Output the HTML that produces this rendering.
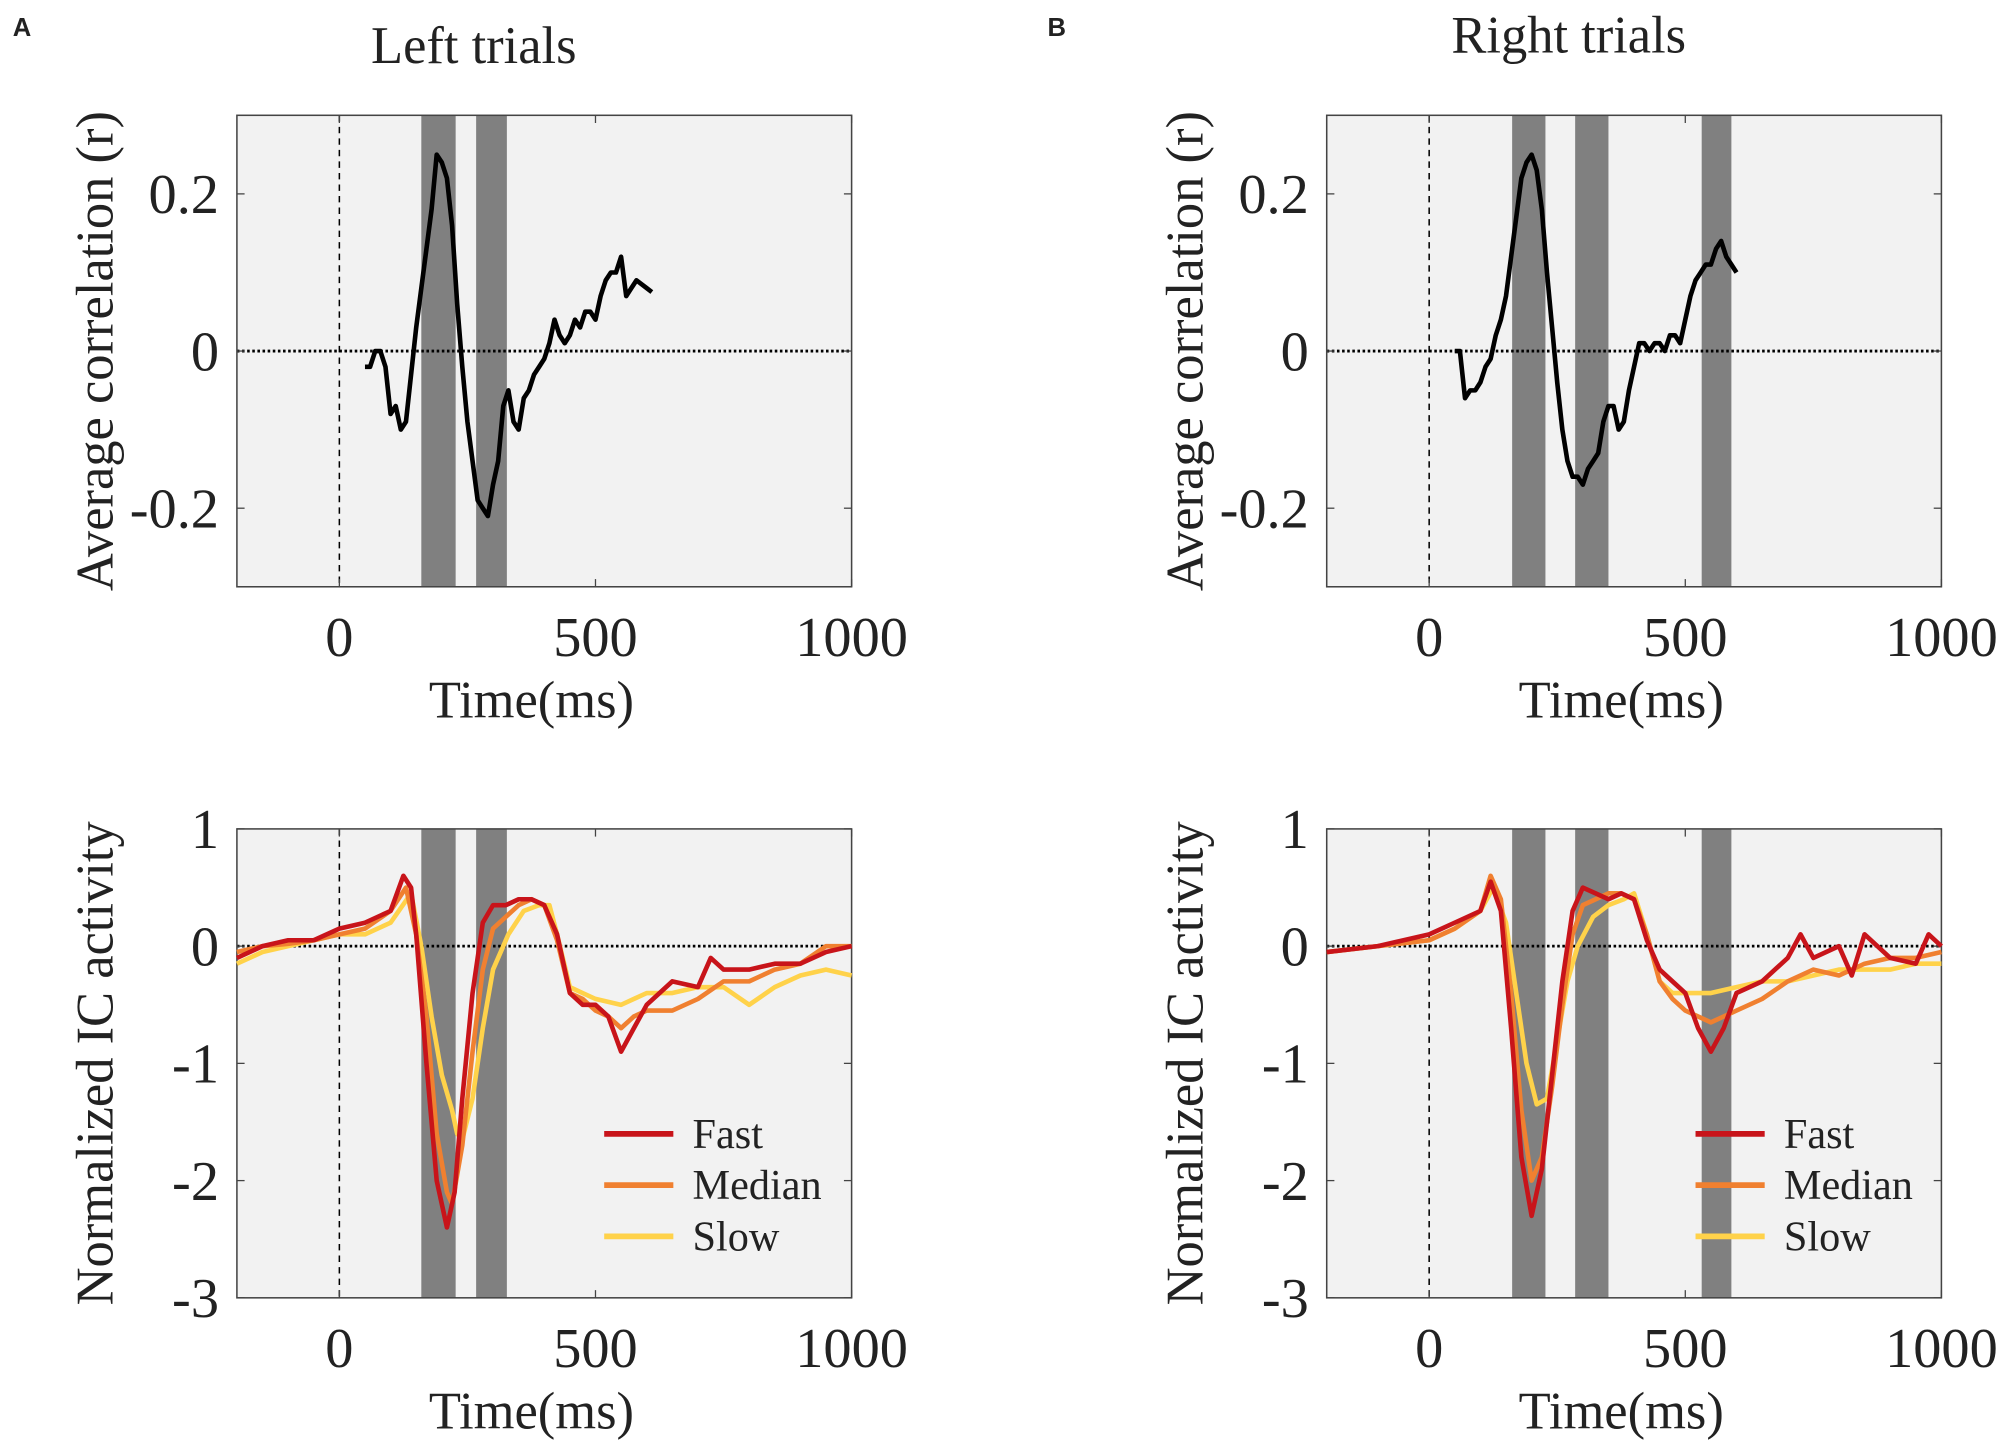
<!DOCTYPE html>
<html><head><meta charset="utf-8"><style>
html,body{margin:0;padding:0;background:#fff}
svg{display:block}
text{font-family:"Liberation Serif",serif;fill:#222}
</style></head><body>
<svg id="fig" width="2008" height="1449" viewBox="0 0 1568 1131" preserveAspectRatio="none" xmlns="http://www.w3.org/2000/svg">
<text x="10" y="28" style="font-family:'Liberation Sans',sans-serif;font-weight:bold;font-size:20px" fill="#000">A</text>
<text x="818" y="28" style="font-family:'Liberation Sans',sans-serif;font-weight:bold;font-size:20px" fill="#000">B</text>
<text x="370" y="49" text-anchor="middle" font-size="41">Left trials</text>
<text x="1225" y="41" text-anchor="middle" font-size="41">Right trials</text>
</svg>
<script>
// Data arrays
const xTicks=[0,500,1000];
const corrTicks=[-0.2,0,0.2];
const corrTickLabels=["-0.2","0","0.2"];
const icTicks=[-3,-2,-1,0,1];
const icTickLabels=["-3","-2","-1","0","1"];
const seriesNames=["Fast","Median","Slow"];
const bandsLeft=[[160,227],[267,327]];
const bandsRight=[[162,227],[285,350],[532,590]];
const corrLeftT=[50,60,70,80,90,100,110,120,130,140,150,160,170,180,190,200,210,220,230,240,250,260,270,280,290,300,310,320,330,340,350,360,370,380,390,400,410,420,430,440,450,460,470,480,490,500,510,520,530,540,550,560,570,580,600,610];
const corrLeftV=[-0.02,-0.02,0,0,-0.02,-0.08,-0.07,-0.1,-0.09,-0.03,0.03,0.08,0.13,0.18,0.25,0.24,0.22,0.16,0.06,-0.02,-0.09,-0.14,-0.19,-0.2,-0.21,-0.17,-0.14,-0.07,-0.05,-0.09,-0.1,-0.06,-0.05,-0.03,-0.02,-0.01,0.01,0.04,0.02,0.01,0.02,0.04,0.03,0.05,0.05,0.04,0.07,0.09,0.1,0.1,0.12,0.07,0.08,0.09,0.08,0.075];
const corrRightT=[50,60,70,80,90,100,110,120,130,140,150,160,170,180,190,200,210,220,230,240,250,260,270,280,290,300,310,320,330,340,350,360,370,380,390,400,410,420,430,440,450,460,470,480,490,500,510,520,530,540,550,560,570,580,590,600];
const corrRightV=[0,0,-0.06,-0.05,-0.05,-0.04,-0.02,-0.01,0.02,0.04,0.07,0.12,0.17,0.22,0.24,0.25,0.23,0.18,0.1,0.03,-0.04,-0.1,-0.14,-0.16,-0.16,-0.17,-0.15,-0.14,-0.13,-0.09,-0.07,-0.07,-0.1,-0.09,-0.05,-0.02,0.01,0.01,0,0.01,0.01,0,0.02,0.02,0.01,0.04,0.07,0.09,0.1,0.11,0.11,0.13,0.14,0.12,0.11,0.1];
const lfT=[-200,-150,-100,-50,0,50,100,125,140,150,170,190,210,225,240,260,280,300,325,350,375,400,425,450,475,500,525,550,575,600,650,700,725,750,800,850,900,950,1000];
const lfV=[-0.1,0,0.05,0.05,0.15,0.2,0.3,0.6,0.5,0.1,-1.0,-2.0,-2.4,-2.1,-1.3,-0.4,0.2,0.35,0.35,0.4,0.4,0.35,0.1,-0.4,-0.5,-0.5,-0.6,-0.9,-0.7,-0.5,-0.3,-0.35,-0.1,-0.2,-0.2,-0.15,-0.15,-0.05,0];
const lmT=[-200,-150,-100,-50,0,50,100,130,150,170,190,210,220,240,260,280,300,325,350,375,400,425,450,475,500,525,550,575,600,650,700,750,800,850,900,950,1000];
const lmV=[-0.05,0,0.02,0.05,0.1,0.15,0.3,0.5,0.1,-0.6,-1.6,-2.1,-2.2,-1.7,-0.9,-0.2,0.15,0.25,0.35,0.4,0.35,0.05,-0.4,-0.45,-0.55,-0.6,-0.7,-0.6,-0.55,-0.55,-0.45,-0.3,-0.3,-0.2,-0.15,0,0];
const lsT=[-200,-150,-100,-50,0,50,100,140,160,180,200,220,230,240,260,280,300,330,360,390,410,425,450,475,500,550,600,650,700,750,800,850,900,950,1000];
const lsV=[-0.15,-0.05,0,0.05,0.1,0.1,0.2,0.45,0,-0.6,-1.1,-1.4,-1.6,-1.65,-1.3,-0.7,-0.2,0.1,0.3,0.35,0.35,0.1,-0.35,-0.4,-0.45,-0.5,-0.4,-0.4,-0.35,-0.35,-0.5,-0.35,-0.25,-0.2,-0.25];
const rfT=[-200,-100,0,50,100,120,140,160,180,200,220,240,260,280,300,325,350,375,400,425,450,475,500,525,550,575,600,650,700,725,750,800,825,850,900,950,975,1000];
const rfV=[-0.05,0,0.1,0.2,0.3,0.55,0.3,-0.7,-1.8,-2.3,-1.9,-1.1,-0.3,0.3,0.5,0.45,0.4,0.45,0.4,0.05,-0.2,-0.3,-0.4,-0.7,-0.9,-0.7,-0.4,-0.3,-0.1,0.1,-0.1,0,-0.25,0.1,-0.1,-0.15,0.1,0];
const rmT=[-200,-100,0,50,100,120,140,160,180,200,220,240,260,280,300,325,350,375,400,425,450,475,500,550,600,650,700,750,800,850,900,950,1000];
const rmV=[-0.05,0,0.05,0.15,0.3,0.6,0.4,-0.4,-1.4,-2.0,-1.8,-1.2,-0.5,0.1,0.35,0.4,0.45,0.45,0.4,0.1,-0.3,-0.45,-0.55,-0.65,-0.55,-0.45,-0.3,-0.2,-0.25,-0.15,-0.1,-0.1,-0.05];
const rsT=[-200,-100,0,50,100,125,150,170,190,210,230,250,270,290,320,350,380,400,425,450,475,500,550,600,650,700,750,800,850,900,950,1000];
const rsV=[-0.05,0,0.05,0.15,0.3,0.5,0.2,-0.4,-1.0,-1.35,-1.3,-0.8,-0.3,0,0.25,0.35,0.4,0.45,0.1,-0.3,-0.4,-0.4,-0.4,-0.35,-0.3,-0.3,-0.25,-0.2,-0.2,-0.2,-0.15,-0.15];
const colors=["#c8141a","#f08030","#ffd24a"];

const NS="http://www.w3.org/2000/svg";
const svg=document.getElementById('fig');
function mk(tag,attrs,parent){const e=document.createElementNS(NS,tag);for(const k in attrs)e.setAttribute(k,attrs[k]);(parent||svg).appendChild(e);return e;}

function panel(o){
  const g=mk('g',{});
  
  
  const X=t=>o.x0+(t-(-200))/1200*(o.x1-o.x0);
  const Y=v=>o.y1-(v-o.ymin)/(o.ymax-o.ymin)*(o.y1-o.y0);
  const bg=mk('rect',{x:o.x0,y:o.y0,width:o.x1-o.x0,height:o.y1-o.y0,fill:'#f2f2f2'},g);
  
  
  o.bands.forEach(b=>{const r=mk('rect',{x:X(b[0]),y:o.y0,width:X(b[1])-X(b[0]),height:o.y1-o.y0,fill:'#808080'},g);
    
    });
  mk('line',{x1:X(0),x2:X(0),y1:o.y0,y2:o.y1,stroke:'#000','stroke-width':1.2,'stroke-dasharray':'5,4'},g);
  mk('line',{x1:o.x0,x2:o.x1,y1:Y(0),y2:Y(0),stroke:'#000','stroke-width':2.2,'stroke-dasharray':'2,2'},g);
  const ax=mk('rect',{x:o.x0,y:o.y0,width:o.x1-o.x0,height:o.y1-o.y0,fill:'none',stroke:'#444','stroke-width':1.2},g);
  
  
  xTicks.forEach(t=>{
    mk('line',{x1:X(t),x2:X(t),y1:o.y1,y2:o.y1-6,stroke:'#444'},g);
    mk('line',{x1:X(t),x2:X(t),y1:o.y0,y2:o.y0+6,stroke:'#444'},g);
    const tx=mk('text',{x:X(t),y:o.y1+54,'text-anchor':'middle','font-size':44},g);tx.textContent=t;
    
    
  });
  o.yticks.forEach((v,i)=>{
    mk('line',{x1:o.x0,x2:o.x0+6,y1:Y(v),y2:Y(v),stroke:'#444'},g);
    mk('line',{x1:o.x1,x2:o.x1-6,y1:Y(v),y2:Y(v),stroke:'#444'},g);
    const tx=mk('text',{x:o.x0-14,y:Y(v)+15,'text-anchor':'end','font-size':44},g);tx.textContent=o.ylabels[i];
    
    
  });
  const xt=mk('text',{x:(o.x0+o.x1)/2-10,y:o.y1+102,'text-anchor':'middle','font-size':41},g);xt.textContent='Time(ms)';
  
  
  const yt=mk('text',{x:0,y:0,'text-anchor':'middle','font-size':41,transform:`translate(${o.x0-97},${(o.y0+o.y1)/2}) rotate(-90)`},g);yt.textContent=o.ytitle;
  
  
  o.series.forEach((s,i)=>{
    const d=s.t.map((t,j)=>(j?'L':'M')+X(t).toFixed(1)+','+Y(s.v[j]).toFixed(1)).join('');
    const p=mk('path',{d:d,fill:'none',stroke:s.c,'stroke-width':3.6,'stroke-linejoin':'round'},g);
    
    
  });
  if(o.legend){
    const lx=X(o.legend);
    seriesNames.forEach((n,i)=>{
      const y=885+i*40;
      const l=mk('line',{x1:lx,x2:lx+54,y1:y,y2:y,stroke:colors[i],'stroke-width':4.5},g);
      
      
      const tx=mk('text',{x:lx+69,y:y+11,'font-size':33},g);tx.textContent=n;
      
      
    });
  }
}
panel({name:'left-correlation-panel',x0:185,x1:665,y0:90,y1:458,ymin:-0.3,ymax:0.3,yticks:corrTicks,ylabels:corrTickLabels,bands:bandsLeft,ytitle:'Average correlation (r)',
  series:[{t:corrLeftT,v:corrLeftV,c:'#000',n:'correlation'}]});
panel({name:'right-correlation-panel',x0:1036,x1:1516,y0:90,y1:458,ymin:-0.3,ymax:0.3,yticks:corrTicks,ylabels:corrTickLabels,bands:bandsRight,ytitle:'Average correlation (r)',
  series:[{t:corrRightT,v:corrRightV,c:'#000',n:'correlation'}]});
panel({name:'left-ic-panel',x0:185,x1:665,y0:647,y1:1013,ymin:-3,ymax:1,yticks:icTicks,ylabels:icTickLabels,bands:bandsLeft,ytitle:'Normalized IC activity',legend:517,
  series:[{t:lsT,v:lsV,c:colors[2],n:'slow'},{t:lmT,v:lmV,c:colors[1],n:'median'},{t:lfT,v:lfV,c:colors[0],n:'fast'}]});
panel({name:'right-ic-panel',x0:1036,x1:1516,y0:647,y1:1013,ymin:-3,ymax:1,yticks:icTicks,ylabels:icTickLabels,bands:bandsRight,ytitle:'Normalized IC activity',legend:520,
  series:[{t:rsT,v:rsV,c:colors[2],n:'slow'},{t:rmT,v:rmV,c:colors[1],n:'median'},{t:rfT,v:rfV,c:colors[0],n:'fast'}]});
</script>
</body></html>
